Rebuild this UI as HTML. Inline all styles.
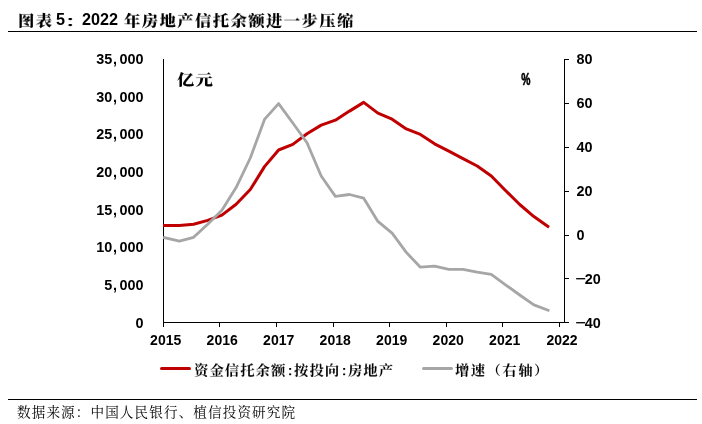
<!DOCTYPE html>
<html lang="zh-CN">
<head>
<meta charset="utf-8">
<title>图表 5：2022 年房地产信托余额进一步压缩</title>
<style>
  html, body { margin: 0; padding: 0; background: #ffffff; }
  body { width: 702px; height: 424px; position: relative; overflow: hidden;
         font-family: "Liberation Sans", "Noto Serif CJK SC", sans-serif; color: #000; }
  .abs { position: absolute; white-space: nowrap; will-change: transform; }
  .t { top: 8.4px; line-height: 22px; font-weight: bold; font-size: 16.2px;
       font-family: "Liberation Sans", "Noto Serif CJK SC", serif; }
  .t.k { top: 9px; transform: scaleY(0.94); transform-origin: 0 84%; font-size: 16.4px; letter-spacing: 1.36px; font-weight: 900; }
  .lg { top: 358.3px; line-height: 22px; font-size: 14.4px; letter-spacing: 1px; font-weight: 700; transform: scaleY(0.91); transform-origin: 0 84%;
        font-family: "Noto Serif CJK SC", "Liberation Sans", serif; }
  .rule { position: absolute; left: 8px; width: 689px; height: 1px; background: #000; }
  .src { left: 17px; top: 400px; font-size: 13.6px; letter-spacing: 1.1px; line-height: 22px; font-weight: 400;
         font-family: "Noto Serif CJK SC", "Liberation Sans", serif; }
  svg { position: absolute; left: 0; top: 0; will-change: transform; }
  svg text { font-family: "Liberation Sans", "Noto Serif CJK SC", sans-serif; font-weight: bold; font-size: 14px; fill: #000; }
  svg g.l text { font-size: 14.4px; }
  .c { display:inline-block; width: 7.7px; letter-spacing:0; text-align:center; font-family:"Liberation Sans",sans-serif; font-weight:bold; }
</style>
</head>
<body>
<div class="abs t k" style="left:17.6px">图表</div>
<div class="abs t" style="left:56px">5</div>
<div class="abs" style="left:64.7px; top:15.8px; font:700 11.5px/11.5px 'Noto Sans CJK SC',sans-serif; transform:scaleX(1.84); transform-origin:0 0">：</div>
<div class="abs t" style="left:82.4px">2022</div>
<div class="abs t k" style="left:123.6px">年房地产信托余额进一步压缩</div>
<div class="rule" style="top:31px"></div>

<svg width="702" height="424" viewBox="0 0 702 424">
  <!-- axes -->
  <g stroke="#000" stroke-width="1" fill="none" shape-rendering="crispEdges">
    <line x1="163.5" y1="59" x2="163.5" y2="323"/>
    <line x1="163" y1="322.5" x2="565" y2="322.5"/>
    <line x1="564.5" y1="59" x2="564.5" y2="323"/>
    <!-- x ticks -->
    <line x1="163.5" y1="322" x2="163.5" y2="327"/>
    <line x1="219.5" y1="322" x2="219.5" y2="327"/>
    <line x1="276.5" y1="322" x2="276.5" y2="327"/>
    <line x1="333.5" y1="322" x2="333.5" y2="327"/>
    <line x1="389.5" y1="322" x2="389.5" y2="327"/>
    <line x1="446.5" y1="322" x2="446.5" y2="327"/>
    <line x1="502.5" y1="322" x2="502.5" y2="327"/>
    <line x1="559.5" y1="322" x2="559.5" y2="327"/>
    <!-- right ticks -->
    <line x1="564" y1="59.5" x2="569" y2="59.5"/>
    <line x1="564" y1="103.5" x2="569" y2="103.5"/>
    <line x1="564" y1="147.5" x2="569" y2="147.5"/>
    <line x1="564" y1="191.5" x2="569" y2="191.5"/>
    <line x1="564" y1="235.5" x2="569" y2="235.5"/>
    <line x1="564" y1="278.5" x2="569" y2="278.5"/>
    <line x1="564" y1="322.5" x2="569" y2="322.5"/>
  </g>


  <!-- red series (left axis) -->
  <polyline fill="none" stroke="#c00000" stroke-width="3" stroke-linejoin="round" stroke-linecap="square"
    points="164.5,225.5 179.4,225.5 193.6,224.3 207.7,220.4 221.9,215.1 236.1,204.2 250.3,189.5 264.5,166.6 278.6,150 292.8,144.4 307,133.7 321.2,125.1 335.4,120.2 349.5,111.1 363.7,102.4 377.9,113.1 392.1,119.2 406.3,128.9 420.4,134.4 434.6,143.8 448.8,151.2 463,158.6 477.2,166 491.3,176 505.5,190.5 519.7,204.5 533.9,216.6 547.8,226.3"/>
  <!-- gray series (right axis) -->
  <polyline fill="none" stroke="#a6a6a6" stroke-width="2.8" stroke-linejoin="round" stroke-linecap="square"
    points="164.5,237.6 179.4,241.1 193.6,237.3 207.7,224.2 221.9,210.2 236.1,187.6 250.3,158 264.5,119.4 278.6,103.6 292.8,123 307,142.8 321.2,176 335.4,196.4 349.5,194.5 363.7,198.2 377.9,221.4 392.1,233.2 406.3,252.4 420.4,267.2 434.6,266.1 448.8,269.4 463,269.4 477.2,272.2 491.3,274.4 505.5,284.8 519.7,295 533.9,304.9 548.1,310.3"/>

  <!-- left axis labels -->
  <g text-anchor="end" class="l">
    <text x="143.5" y="64">35<tspan dx="0.7">,</tspan><tspan dx="2.4">000</tspan></text>
    <text x="143.5" y="101.7">30<tspan dx="0.7">,</tspan><tspan dx="2.4">000</tspan></text>
    <text x="143.5" y="139.3">25<tspan dx="0.7">,</tspan><tspan dx="2.4">000</tspan></text>
    <text x="143.5" y="177">20<tspan dx="0.7">,</tspan><tspan dx="2.4">000</tspan></text>
    <text x="143.5" y="214.6">15<tspan dx="0.7">,</tspan><tspan dx="2.4">000</tspan></text>
    <text x="143.5" y="252.3">10<tspan dx="0.7">,</tspan><tspan dx="2.4">000</tspan></text>
    <text x="143.5" y="289.9">5<tspan dx="0.7">,</tspan><tspan dx="2.4">000</tspan></text>
    <text x="143.5" y="327.5">0</text>
  </g>
  <!-- right axis labels -->
  <g text-anchor="start" class="l">
    <text x="576.5" y="64">80</text>
    <text x="576.5" y="108">60</text>
    <text x="576.5" y="152">40</text>
    <text x="576.5" y="195.5">20</text>
    <text x="576.5" y="239.5">0</text>
    <text x="575.3" y="283.5"><tspan style="font-weight:400;font-size:18.6px" dy="1.2">−</tspan><tspan dx="-1.4" dy="-1.2">20</tspan></text>
    <text x="575.3" y="327.5"><tspan style="font-weight:400;font-size:18.6px" dy="1.2">−</tspan><tspan dx="-1.4" dy="-1.2">40</tspan></text>
  </g>
  <!-- x labels -->
  <g text-anchor="middle">
    <text x="165.7" y="345.2">2015</text>
    <text x="222.2" y="345.2">2016</text>
    <text x="278.7" y="345.2">2017</text>
    <text x="335.2" y="345.2">2018</text>
    <text x="391.7" y="345.2">2019</text>
    <text x="448.2" y="345.2">2020</text>
    <text x="504.7" y="345.2">2021</text>
    <text x="562" y="345.2">2022</text>
  </g>

  <!-- unit labels -->
  <text x="521.3" y="85" style="font-size:17.4px;stroke:#000;stroke-width:0.7px;stroke-linejoin:round" textLength="9.2" lengthAdjust="spacingAndGlyphs">%</text>

  <!-- legend -->
  <line x1="161.5" y1="368.5" x2="189.5" y2="368.5" stroke="#c00000" stroke-width="3" stroke-linecap="round"/>
  <line x1="423.5" y1="368.5" x2="451.5" y2="368.5" stroke="#a6a6a6" stroke-width="3" stroke-linecap="round"/>
</svg>

<div class="abs lg" style="left:177px; top:68px; font-size:17.3px; letter-spacing:1.2px; font-weight:900; transform:scaleY(0.87); transform-origin:0 50%;">亿元</div>
<div class="abs lg" style="left:193.6px">资金信托余额<span class="c">:</span>按投向<span class="c">:</span>房地产</div>
<div class="abs lg" style="left:454.6px; letter-spacing:1.4px">增速（右轴）</div>
<div class="rule" style="top:399px"></div>
<div class="abs src">数据来源：中国人民银行、植信投资研究院</div>
</body>
</html>
